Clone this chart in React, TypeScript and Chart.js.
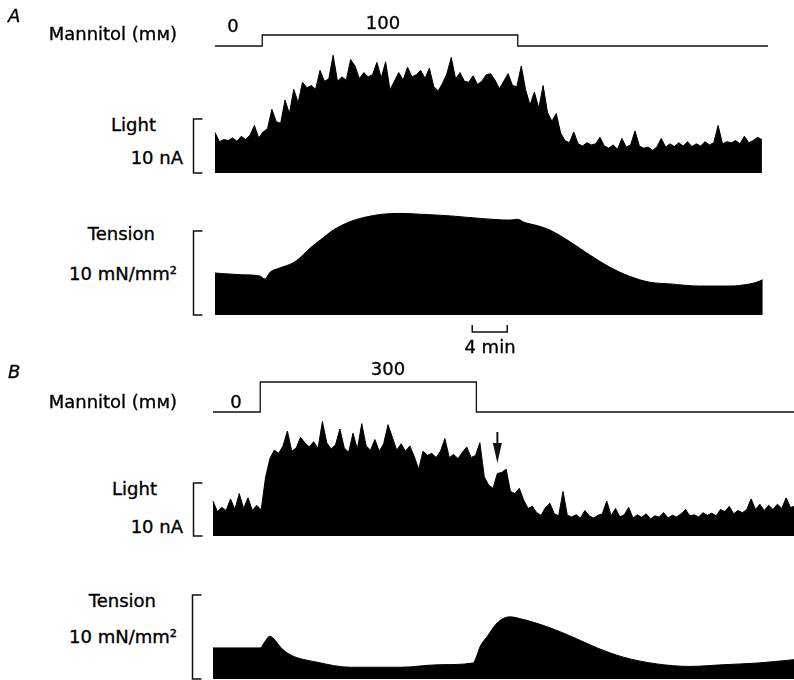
import React, { useEffect, useRef } from "react";
import { Chart, registerables } from "chart.js";

Chart.register(...registerables);

// ---------------- data ----------------
// time axis in minutes; 4 min scale bar
const PX_PER_MIN = 8.75;
const SCALE_BAR_MIN = 4;

// Panel A
const mannitolATimes = [0, 5.4, 34.6, 63.2];
const mannitolAValues = [0, 100, 0, 0]; // mM

const lightAStep = 0.5; // min between samples
const lightAValues = [
  7.5, 5.8, 6.2, 6.0, 6.5, 5.9, 6.8, 6.2, 7.0, 8.8,
  6.5, 7.6, 8.2, 11.8, 9.5, 9.2, 13.5, 11.0, 15.5, 13.0,
  16.8, 15.8, 16.2, 15.5, 19.0, 17.0, 17.4, 21.8, 17.0, 17.8,
  17.2, 21.0, 19.8, 17.5, 18.6, 17.8, 18.2, 20.5, 17.6, 20.6,
  15.4, 17.0, 18.6, 17.2, 19.6, 17.8, 18.2, 19.0, 17.5, 19.4,
  16.0, 15.2, 16.6, 18.4, 21.4, 17.4, 18.6, 17.0, 16.8, 18.0,
  16.4, 17.0, 18.2, 18.4, 17.2, 15.6, 17.0, 18.4, 16.2, 16.0,
  19.8, 15.4, 12.6, 15.0, 12.0, 16.2, 11.2, 9.6, 11.0, 7.4,
  6.0, 5.6, 7.6, 5.4, 5.0, 5.6, 5.2, 5.4, 6.6, 5.0,
  4.6, 5.2, 4.4, 6.4, 4.8, 5.2, 7.8, 5.0, 4.6, 4.8,
  4.2, 4.8, 6.4, 4.8, 5.4, 4.9, 5.6, 5.0, 5.8, 4.9,
  5.4, 5.0, 5.8, 5.2, 5.6, 8.8, 5.4, 5.8, 5.6, 6.0,
  5.4, 6.8, 5.6, 6.0, 6.6, 6.2,
]; // nA

const tensionATimes = [
  0, 2.9, 5.1, 5.7, 6.3, 7.4, 8.9, 9.7, 10.9, 12.0, 13.5, 15.4, 17.4, 19.2,
  21.1, 23.4, 26.9, 30.3, 33.7, 34.6, 35.4, 36.6, 38.3, 40.6, 42.9, 45.1,
  47.4, 49.7, 52.0, 55.4, 58.9, 61.1, 61.9, 62.6,
];
const tensionAValues = [
  5.0, 4.8, 4.65, 4.3, 5.1, 5.6, 6.2, 6.8, 8.0, 8.9, 10.1, 11.1, 11.7, 12.0,
  12.1, 12.0, 11.8, 11.5, 11.3, 11.4, 11.0, 10.7, 10.1, 8.7, 7.1, 5.7,
  4.6, 3.9, 3.7, 3.45, 3.45, 3.7, 3.9, 4.2,
]; // mN/mm2

// Panel B
const mannitolBTimes = [0, 5.4, 30.1, 66.4];
const mannitolBValues = [0, 300, 0, 0]; // mM

const lightBStep = 0.5;
const lightBValues = [
  6.6, 4.6, 5.4, 4.8, 7.0, 5.0, 8.0, 5.2, 7.2, 4.8,
  5.8, 4.9, 11.0, 14.6, 16.2, 15.6, 17.0, 19.8, 16.0, 16.6,
  18.6, 17.6, 16.8, 17.8, 16.5, 21.6, 17.6, 16.4, 17.2, 20.2,
  16.6, 15.8, 19.4, 16.4, 21.2, 17.0, 16.2, 18.2, 16.0, 17.4,
  21.0, 18.6, 16.2, 17.4, 16.0, 17.0, 15.0, 12.6, 16.0, 15.2,
  15.6, 14.8, 16.0, 18.4, 14.8, 15.4, 14.6, 15.8, 16.8, 14.8,
  15.2, 17.6, 11.2, 9.6, 9.0, 11.8, 12.0, 12.6, 8.4, 8.0,
  9.0, 6.8, 5.2, 5.6, 4.4, 3.9, 5.4, 6.2, 4.2, 3.8,
  8.4, 3.9, 3.6, 4.0, 3.4, 4.8, 3.8, 3.4, 3.9, 4.2,
  6.6, 3.8, 5.2, 3.6, 4.0, 5.4, 3.4, 4.0, 3.5, 4.2,
  3.2, 3.8, 3.6, 4.4, 3.4, 3.9, 3.6, 4.2, 5.0, 3.8,
  4.0, 3.6, 4.4, 3.9, 4.3, 3.8, 5.0, 4.6, 5.6, 4.2,
  4.8, 4.4, 5.0, 7.0, 5.0, 6.0, 4.8, 5.8, 5.0, 6.0,
  5.2, 7.2, 5.4, 5.6,
]; // nA
const arrowBTime = 32.5; // min

const tensionBTimes = [
  0, 5.4, 5.9, 6.5, 7.1, 7.7, 8.8, 11.9, 15.7, 21.4, 25.9, 29.7, 30.2, 30.5,
  31.3, 32.5, 33.9, 35.4, 38.5, 41.1, 43.9, 46.9, 50.7, 54.5, 58.3, 62.2, 66.4,
];
const tensionBValues = [
  3.7, 3.7, 4.4, 5.1, 4.6, 3.8, 2.9, 2.0, 1.4, 1.4, 1.7, 1.9, 2.9, 3.8,
  5.0, 6.7, 7.4, 7.1, 6.1, 5.0, 3.7, 2.6, 1.8, 1.5, 1.7, 1.9, 2.3,
]; // mN/mm2

const SCALE_LIGHT = 10; // nA
const SCALE_TENSION = 10; // mN/mm2

// ---------------- helpers ----------------
const pairs = (xs: number[], ys: number[]) => ys.map((y, i) => ({ x: xs[i], y }));
const sampled = (step: number, ys: number[]) => ys.map((y, i) => ({ x: i * step, y }));

const stepLine = (data: any[]) => ({
  data,
  borderColor: "#111",
  borderWidth: 1.3,
  stepped: true,
  fill: false,
  pointRadius: 0,
});
const noisyFill = (data: any[]) => ({
  data,
  borderColor: "#000",
  backgroundColor: "#000",
  borderWidth: 1,
  tension: 0,
  fill: "origin",
  pointRadius: 0,
});
const smoothFill = (data: any[]) => ({
  data,
  borderColor: "#000",
  backgroundColor: "#000",
  borderWidth: 1,
  cubicInterpolationMode: "monotone",
  fill: "origin",
  pointRadius: 0,
});

type TraceSpec = {
  left: number;
  top: number;
  width: number;
  height: number;
  originX: number;
  zeroY: number;
  pxPerUnit: number;
  datasets: any[];
  bracket?: { x: number; value: number };
  timeBar?: { start: number; length: number; y: number };
  arrow?: { time: number; top: number; bottom: number };
};

function TraceChart({ spec }: { spec: TraceSpec }) {
  const ref = useRef<HTMLCanvasElement>(null);
  useEffect(() => {
    const canvas = ref.current!;
    const xMin = (spec.left - spec.originX) / PX_PER_MIN;
    const xMax = (spec.left + spec.width - spec.originX) / PX_PER_MIN;
    const yMax = spec.zeroY / spec.pxPerUnit;
    const yMin = -(spec.height - spec.zeroY) / spec.pxPerUnit;
    const marks = {
      id: "marks",
      afterDatasetsDraw(chart: any) {
        const ctx = chart.ctx as CanvasRenderingContext2D;
        const xs = chart.scales.x;
        const ys = chart.scales.y;
        ctx.save();
        ctx.strokeStyle = "#111";
        ctx.fillStyle = "#111";
        ctx.lineWidth = 1.5;
        if (spec.bracket) {
          const bx = spec.bracket.x - spec.left + 0.5;
          const y0 = ys.getPixelForValue(0);
          const y1 = ys.getPixelForValue(spec.bracket.value);
          ctx.beginPath();
          ctx.moveTo(bx + 9, y1);
          ctx.lineTo(bx, y1);
          ctx.lineTo(bx, y0);
          ctx.lineTo(bx + 9, y0);
          ctx.stroke();
        }
        if (spec.timeBar) {
          const x0 = xs.getPixelForValue(spec.timeBar.start);
          const x1 = xs.getPixelForValue(spec.timeBar.start + spec.timeBar.length);
          const yb = spec.timeBar.y - spec.top;
          ctx.beginPath();
          ctx.moveTo(x0, yb - 7);
          ctx.lineTo(x0, yb);
          ctx.lineTo(x1, yb);
          ctx.lineTo(x1, yb - 7);
          ctx.stroke();
        }
        if (spec.arrow) {
          const ax = xs.getPixelForValue(spec.arrow.time);
          const t = spec.arrow.top - spec.top;
          const b = spec.arrow.bottom - spec.top;
          ctx.lineWidth = 2;
          ctx.beginPath();
          ctx.moveTo(ax, t);
          ctx.lineTo(ax, b - 14);
          ctx.stroke();
          ctx.beginPath();
          ctx.moveTo(ax - 4.5, b - 20);
          ctx.lineTo(ax + 4.5, b - 20);
          ctx.lineTo(ax, b);
          ctx.closePath();
          ctx.fill();
        }
        ctx.restore();
      },
    };
    const chart = new Chart(canvas, {
      type: "line",
      data: { datasets: spec.datasets },
      options: {
        responsive: false,
        animation: false,
        devicePixelRatio: 1,
        events: [],
        layout: { padding: 0 },
        plugins: {
          legend: { display: false },
          tooltip: { enabled: false },
          title: { display: false },
        },
        scales: {
          x: { type: "linear", display: false, min: xMin, max: xMax },
          y: { type: "linear", display: false, min: yMin, max: yMax },
        },
      },
      plugins: [marks],
    } as any);
    return () => chart.destroy();
  }, []);
  return (
    <canvas
      ref={ref}
      width={spec.width}
      height={spec.height}
      style={{
        position: "absolute",
        left: spec.left,
        top: spec.top,
        width: spec.width,
        height: spec.height,
      }}
    />
  );
}

const specs: TraceSpec[] = [
  {
    left: 185, top: 25, width: 609, height: 27, originX: 215, zeroY: 21, pxPerUnit: 0.11,
    datasets: [stepLine(pairs(mannitolATimes, mannitolAValues))],
  },
  {
    left: 185, top: 50, width: 609, height: 127, originX: 215, zeroY: 123, pxPerUnit: 5.4,
    datasets: [noisyFill(sampled(lightAStep, lightAValues))],
    bracket: { x: 193, value: SCALE_LIGHT },
  },
  {
    left: 185, top: 200, width: 609, height: 140, originX: 215, zeroY: 115, pxPerUnit: 8.4,
    datasets: [smoothFill(pairs(tensionATimes, tensionAValues))],
    bracket: { x: 193, value: SCALE_TENSION },
    timeBar: { start: 29.4, length: SCALE_BAR_MIN, y: 332 },
  },
  {
    left: 185, top: 372, width: 609, height: 45, originX: 213, zeroY: 40, pxPerUnit: 0.1,
    datasets: [stepLine(pairs(mannitolBTimes, mannitolBValues))],
  },
  {
    left: 185, top: 415, width: 609, height: 125, originX: 213, zeroY: 121, pxPerUnit: 5.3,
    datasets: [noisyFill(sampled(lightBStep, lightBValues))],
    bracket: { x: 193, value: SCALE_LIGHT },
    arrow: { time: arrowBTime, top: 432, bottom: 463 },
  },
  {
    left: 185, top: 590, width: 609, height: 90, originX: 213, zeroY: 89, pxPerUnit: 8.4,
    datasets: [smoothFill(pairs(tensionBTimes, tensionBValues))],
    bracket: { x: 192, value: SCALE_TENSION },
  },
];

type Lbl = { text: string; x: number; baseline: number; align?: "left" | "right" | "center"; italic?: boolean };
const labels: Lbl[] = [
  { text: "A", x: 8, baseline: 22, italic: true },
  { text: "Mannitol (mм)", x: 177, baseline: 40, align: "right" },
  { text: "0", x: 233, baseline: 32, align: "center" },
  { text: "100", x: 383, baseline: 29, align: "center" },
  { text: "Light", x: 156, baseline: 131, align: "right" },
  { text: "10 nA", x: 183, baseline: 164, align: "right" },
  { text: "Tension", x: 155, baseline: 240, align: "right" },
  { text: "10 mN/mm²", x: 177, baseline: 280, align: "right" },
  { text: "4 min", x: 490, baseline: 353, align: "center" },
  { text: "B", x: 8, baseline: 378, italic: true },
  { text: "300", x: 388, baseline: 375, align: "center" },
  { text: "0", x: 236, baseline: 408, align: "center" },
  { text: "Mannitol (mм)", x: 177, baseline: 408, align: "right" },
  { text: "Light", x: 157, baseline: 495, align: "right" },
  { text: "10 nA", x: 183, baseline: 533, align: "right" },
  { text: "Tension", x: 156, baseline: 607, align: "right" },
  { text: "10 mN/mm²", x: 177, baseline: 643, align: "right" },
];

function Label({ l }: { l: Lbl }) {
  const w = 300;
  const align = l.align || "left";
  const left = align === "left" ? l.x : align === "right" ? l.x - w : l.x - w / 2;
  return (
    <div
      style={{
        position: "absolute",
        left,
        top: l.baseline - 15,
        width: w,
        height: 18,
        lineHeight: "18px",
        fontSize: 18,
        fontFamily: '"DejaVu Sans", sans-serif',
        fontStyle: l.italic ? "italic" : "normal",
        color: "#000",
        WebkitTextStroke: "0.35px #000",
        textAlign: align,
        whiteSpace: "nowrap",
      }}
    >
      {l.text}
    </div>
  );
}

export default function App() {
  return (
    <div
      style={{
        position: "absolute",
        left: 0,
        top: 0,
        width: 794,
        height: 680,
        background: "#fff",
        overflow: "hidden",
      }}
    >
      {specs.map((s, i) => (
        <TraceChart key={i} spec={s} />
      ))}
      {labels.map((l, i) => (
        <Label key={i} l={l} />
      ))}
    </div>
  );
}
